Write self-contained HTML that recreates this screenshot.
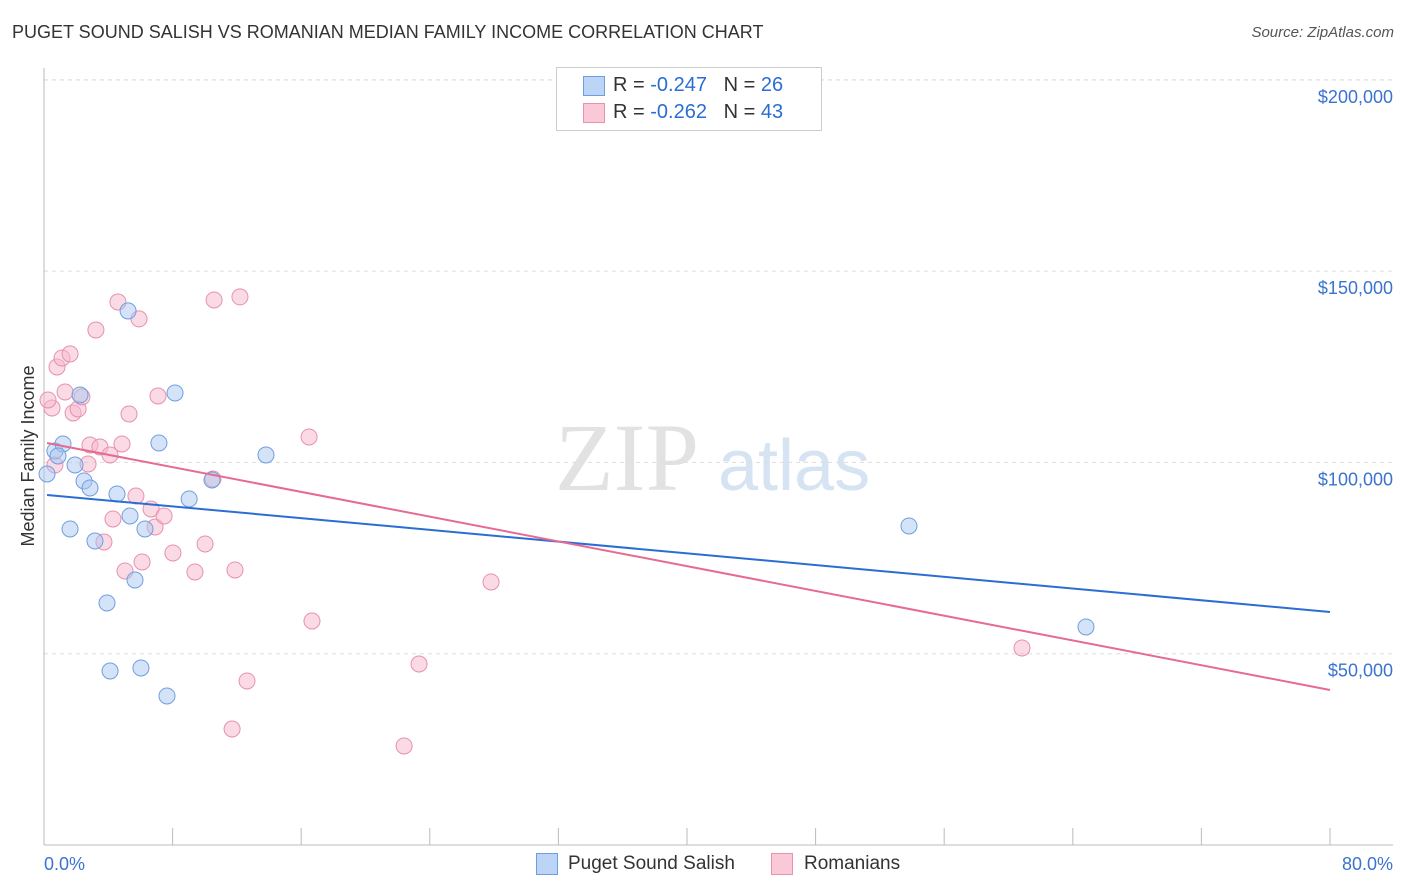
<!DOCTYPE html>
<html><head><meta charset="utf-8"><style>
body{margin:0;background:#fff;font-family:"Liberation Sans",sans-serif;}
#wrap{position:relative;width:1406px;height:892px;overflow:hidden}
.t{position:absolute;white-space:nowrap}
</style></head><body>
<div id="wrap">
<div class="t" style="left:12px;top:22px;font-size:18px;color:#333">PUGET SOUND SALISH VS ROMANIAN MEDIAN FAMILY INCOME CORRELATION CHART</div>
<div class="t" style="right:12px;top:24px;font-size:15px;color:#555;font-style:italic">Source: ZipAtlas.com</div>
<svg id="svg" width="1406" height="892" style="position:absolute;left:0;top:0"></svg>
</div>
<script>
const yTicks=[50000,100000,150000,200000];
const yTickLabels=["$50,000","$100,000","$150,000","$200,000"];
const blueX=[0.19,0.68,1.18,0.87,1.93,1.62,2.49,2.86,2.24,3.17,3.92,4.11,4.54,5.23,5.35,5.66,6.03,6.28,7.15,7.65,8.15,9.03,10.45,13.81,53.81,64.82];
const blueY=[96980,102990,104820,101680,99330,82600,95150,93320,117630,79470,63260,45480,91750,139590,86000,69270,46270,82600,105080,38950,118150,90440,95410,101950,83390,56990];
const pinkX=[0.50,0.68,0.81,1.12,1.31,1.62,1.81,2.12,2.36,2.86,2.74,3.23,3.48,3.73,4.11,4.29,4.60,4.85,5.04,5.29,5.72,5.91,6.10,6.66,6.91,7.09,7.47,8.02,9.39,10.02,10.58,10.51,11.88,11.70,12.19,12.63,16.49,16.67,22.40,23.33,27.81,60.84,0.25];
const pinkY=[114230,99330,124950,127300,118410,128350,112920,113970,117110,104560,99590,134620,104040,79210,101950,85220,141940,104820,71620,112660,91230,137500,73980,87830,83130,117370,86000,76330,71360,78680,142460,95670,71880,30320,143250,42870,106650,58550,25880,47310,68750,51500,116320];
const blueTrend=[0.19,91490,80,60900];
const pinkTrend=[0.19,105080,80,40520];
const X=p=>44+p*(1286/80), Y=v=>845-v/50000*191.3;
const svg=document.getElementById('svg');const NS='http://www.w3.org/2000/svg';
function mk(tag,attrs,parent){const e=document.createElementNS(NS,tag);for(const k in attrs)e.setAttribute(k,attrs[k]);(parent||svg).appendChild(e);return e;}
// watermark
let wm=mk('text',{x:555,y:490,'font-size':96,fill:'#e2e2e2','font-family':'Liberation Serif'});wm.textContent='ZIP';


let wm2=mk('text',{x:718,y:490,'font-size':72,fill:'#d6e3f3','font-family':'Liberation Sans'});wm2.textContent='atlas';


// gridlines
yTicks.forEach((v,i)=>{const g=mk('line',{x1:44,x2:1393,y1:Y(v),y2:Y(v),stroke:'#ddd','stroke-dasharray':'4,4'});


const t=mk('text',{x:1393,y:Y(v)+23,'text-anchor':'end','font-size':18,fill:'#3b73d0'});t.textContent=yTickLabels[i];

});
mk('line',{x1:44,x2:1393,y1:80,y2:80,stroke:'#ddd','stroke-dasharray':'4,4'});
// axes
const ax=mk('line',{x1:44,x2:1393,y1:845,y2:845,stroke:'#bbb'});


const ay=mk('line',{x1:44,x2:44,y1:68,y2:845,stroke:'#bbb'});


for(let p=0;p<=80;p+=8){const tk=mk('line',{x1:X(p),x2:X(p),y1:828,y2:845,stroke:'#bbb'});

}
let xl=mk('text',{x:44,y:870,'font-size':18,fill:'#3b73d0'});xl.textContent='0.0%';


let xr=mk('text',{x:1393,y:870,'text-anchor':'end','font-size':18,fill:'#3b73d0'});xr.textContent='80.0%';


let yt=mk('text',{x:34,y:456,'font-size':18,fill:'#333','text-anchor':'middle',transform:'rotate(-90 34 456)'});yt.textContent='Median Family Income';


// points
function pts(xs,ys,fill,stroke,name){xs.forEach((x,i)=>{const c=mk('circle',{cx:X(x),cy:Y(ys[i]),r:8,fill:fill,'fill-opacity':0.5,stroke:stroke,'stroke-width':1});

});}
pts(pinkX,pinkY,'#f6b8cc','#e890ac','point-romanians');
pts(blueX,blueY,'#a9c8f0','#6f9ee0','point-puget-sound-salish');
const lb=mk('line',{x1:X(blueTrend[0]),y1:Y(blueTrend[1]),x2:X(blueTrend[2]),y2:Y(blueTrend[3]),stroke:'#2a6dd4','stroke-width':2});


const lp=mk('line',{x1:X(pinkTrend[0]),y1:Y(pinkTrend[1]),x2:X(pinkTrend[2]),y2:Y(pinkTrend[3]),stroke:'#e66a94','stroke-width':2});


</script>
<div class="t" style="left:556px;top:67px;width:264px;height:62px;border:1px solid #ccc;background:#fff">
 <div class="t" style="left:26px;top:8px;width:20px;height:18px;background:#bcd4f5;border:1px solid #6f9ee0"></div>
 <div class="t" style="left:56px;top:6px;font-size:20px;color:#333">R = <span style="color:#2a6dd4">-0.247</span>&nbsp;&nbsp;&nbsp;N = <span style="color:#2a6dd4">26</span></div>
 <div class="t" style="left:26px;top:35px;width:20px;height:18px;background:#f9c9d8;border:1px solid #e890ac"></div>
 <div class="t" style="left:56px;top:33px;font-size:20px;color:#333">R = <span style="color:#2a6dd4">-0.262</span>&nbsp;&nbsp;&nbsp;N = <span style="color:#2a6dd4">43</span></div>
</div>
<div class="t" style="left:536px;top:853px;width:20px;height:20px;background:#bcd4f5;border:1px solid #6f9ee0"></div>
<div class="t" style="left:568px;top:853px;font-size:19px;color:#333">Puget Sound Salish</div>
<div class="t" style="left:771px;top:853px;width:20px;height:20px;background:#f9c9d8;border:1px solid #e890ac"></div>
<div class="t" style="left:804px;top:853px;font-size:19px;color:#333">Romanians</div>
</body></html>
